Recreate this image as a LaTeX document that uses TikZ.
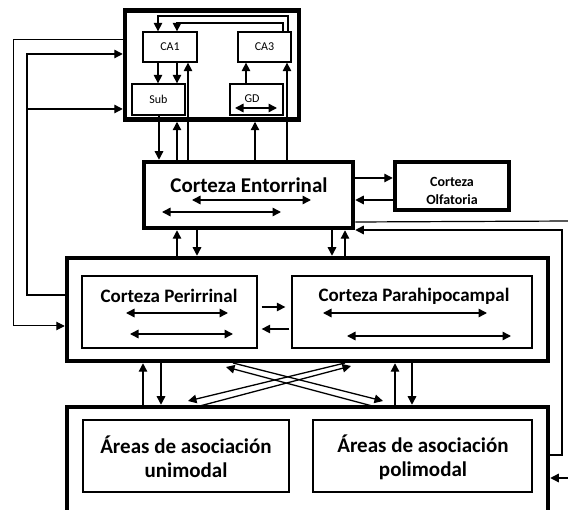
\documentclass[tikz,border=0pt]{standalone}
\usepackage{fontspec}
\setmainfont{Carlito}
\usetikzlibrary{arrows.meta}
\begin{document}
\begin{tikzpicture}[x=1pt,y=-1pt,
  box/.style={draw, line width=4.5pt, inner sep=0pt},
  ibox/.style={draw, line width=1.3pt, inner sep=0pt},
  tip/.tip={Triangle[length=8.5pt,width=8.5pt]},
  conn/.style={line width=1.3pt, -tip},
  ln/.style={line width=1.2pt},
  dbl/.style={line width=1.5pt, tip-tip},
  catxt/.style={font=\fontsize{12}{14}\selectfont},
  enttxt/.style={font=\fontsize{21}{25}\selectfont\bfseries},
  cortxt/.style={font=\fontsize{19}{23}\selectfont\bfseries},
  olftxt/.style={font=\fontsize{14}{18}\selectfont\bfseries, align=center},
  aretxt/.style={font=\fontsize{21}{24}\selectfont\bfseries, align=center}
]
\useasboundingbox (0,0) rectangle (568,510);
\clip (0,0) rectangle (568,510);

% ---------- hippocampal formation ----------
\node[box, minimum width=174pt, minimum height=109pt] (hip) at (212,65) {};
\node[ibox, catxt, minimum width=54pt, minimum height=30pt] (CA1) at (170,47) {CA1};
\node[ibox, catxt, minimum width=53pt, minimum height=30pt] (CA3) at (264.5,47) {CA3};
\node[ibox, catxt, minimum width=53pt, minimum height=31pt] (Sub) at (158.5,99.5) {Sub};
\node[ibox, minimum width=53pt, minimum height=31pt] (GD) at (256.5,99.5) {};
\node[catxt] (GDt) at (252,99) {GD};
\coordinate (gdl) at (235,108);
\coordinate (gdr) at (277,108);
\draw[dbl] (gdl) -- (gdr);

% ---------- entorhinal / olfactory ----------
\node[box, minimum width=209pt, minimum height=66pt] (ent) at (248.5,195) {};
\node[enttxt] (entt) at (249,185) {Corteza Entorrinal};
\coordinate (e1l) at (192,200); \coordinate (e1r) at (311,200);
\coordinate (e2l) at (162,212); \coordinate (e2r) at (281,212);
\draw[dbl] (e1l) -- (e1r);
\draw[dbl] (e2l) -- (e2r);

\node[box, minimum width=114pt, minimum height=48pt] (olf) at (452,186) {};
\node[olftxt] (olft) at (452,191) {Corteza\\Olfatoria};

% ---------- perirhinal / parahippocampal ----------
\node[box, minimum width=481pt, minimum height=103pt] (mid) at (307.5,309.5) {};
\node[ibox, minimum width=175pt, minimum height=72pt] (peri) at (169.5,312) {};
\node[ibox, minimum width=240pt, minimum height=72pt] (para) at (412,312) {};
\node[cortxt] (perit) at (169,296) {Corteza Perirrinal};
\node[cortxt] (parat) at (414,296) {Corteza Parahipocampal};
\coordinate (p1l) at (126,313); \coordinate (p1r) at (228,313);
\coordinate (p2l) at (130,334); \coordinate (p2r) at (233,334);
\coordinate (q1l) at (323,313); \coordinate (q1r) at (487,313);
\coordinate (q2l) at (347,336); \coordinate (q2r) at (511,336);
\draw[dbl] (p1l) -- (p1r);
\draw[dbl] (p2l) -- (p2r);
\draw[dbl] (q1l) -- (q1r);
\draw[dbl] (q2l) -- (q2r);

% ---------- association areas ----------
\node[box, minimum width=481pt, minimum height=133pt] (bot) at (307.5,473.5) {};
\node[ibox, minimum width=206pt, minimum height=72pt] (uni) at (186,456) {};
\node[ibox, minimum width=219pt, minimum height=72pt] (poli) at (422.5,456) {};
\node[aretxt] (unit) at (186,457) {Áreas de asociación\\unimodal};
\node[aretxt] (polit) at (423,457) {Áreas de asociación\\polimodal};

% ---------- connectors inside hippocampus ----------
\draw[conn] (CA3.north -| 288,0) |- (158,16) -- (CA1.north -| 158,0);
\draw[conn] (CA3.north -| 283,0) |- (177,23) -- (CA1.north -| 177,0);
\draw[conn] (CA1.south -| 158,0) -- (Sub.north -| 158,0);
\draw[conn] (CA1.south -| 177,0) -- (Sub.north -| 177,0);
\draw[conn] (GD.north -| 246,0) -- (CA3.south -| 246,0);

% ---------- hippocampus <-> entorhinal ----------
\draw[conn] (Sub.south -| 159,0) -- (ent.north -| 159,0);
\draw[conn] (ent.north -| 177,0) -- (hip.south -| 177,0);
\draw[conn] (ent.north -| 188,0) -- (CA1.south -| 188,0);
\draw[conn] (ent.north -| 255,0) -- (hip.south -| 255,0);
\draw[conn] (ent.north -| 287,0) -- (CA3.south -| 287,0);

% ---------- entorhinal <-> olfactory ----------
\draw[conn] (ent.east |- 0,178) -- (olf.west |- 0,178);
\draw[conn] (olf.west |- 0,200) -- (ent.east |- 0,200);

% ---------- right side ----------
\coordinate (rexit) at (572,221);
\coordinate (rin) at (572,478);
\draw[ln] (ent.east |- 0,222) -- (rexit);
\draw[conn] (bot.east |- 0,455) -| (562,230) -- (ent.east |- 0,230);
\draw[conn] (rin) -- (bot.east |- 0,478);

% ---------- left side ----------
\draw[conn, line width=1pt] (hip.west |- 0,40) -| (13,326) -- (mid.west |- 0,326);
\draw[conn] (mid.west |- 0,295) -| (27,54) -- (hip.west |- 0,54);
\draw[conn] (27,109) -- (hip.west |- 0,109);

% ---------- entorhinal <-> middle ----------
\draw[conn] (mid.north -| 177,0) -- (ent.south -| 177,0);
\draw[conn] (ent.south -| 197,0) -- (mid.north -| 197,0);
\draw[conn] (ent.south -| 332,0) -- (mid.north -| 332,0);
\draw[conn] (mid.north -| 345,0) -- (ent.south -| 345,0);

% ---------- perirhinal <-> parahippocampal ----------
\draw[conn, shorten <=4pt, shorten >=6pt] (peri.east |- 0,307) -- (para.west |- 0,307);
\draw[conn, shorten <=2pt, shorten >=4pt] (para.west |- 0,329) -- (peri.east |- 0,329);

% ---------- middle <-> association ----------
\draw[conn] (bot.north -| 143,0) -- (mid.south -| 143,0);
\draw[conn] (mid.south -| 161,0) -- (bot.north -| 161,0);
\draw[conn] (bot.north -| 395,0) -- (mid.south -| 395,0);
\draw[conn] (mid.south -| 412,0) -- (bot.north -| 412,0);
\coordinate (xa1) at (233,363); \coordinate (xa2) at (383,401);
\coordinate (xb1) at (376,407); \coordinate (xb2) at (226,367);
\coordinate (xc1) at (345,363); \coordinate (xc2) at (188,401);
\coordinate (xd1) at (196,407); \coordinate (xd2) at (351,366);
\draw[conn] (xa1) -- (xa2);
\draw[conn] (xb1) -- (xb2);
\draw[conn] (xc1) -- (xc2);
\draw[conn] (xd1) -- (xd2);
\end{tikzpicture}
\end{document}
